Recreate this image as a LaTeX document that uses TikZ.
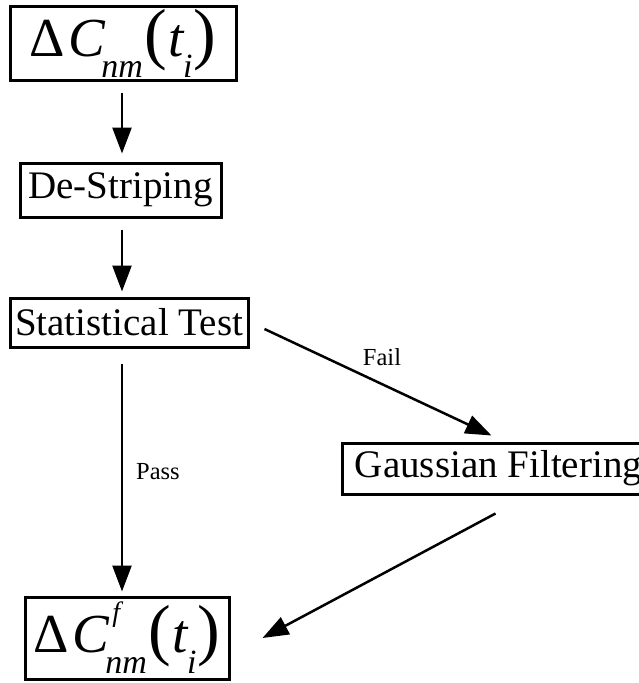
\documentclass[tikz,border=0pt]{standalone}
\usepackage{fontspec}
\setmainfont{Liberation Serif}
\usetikzlibrary{arrows.meta,calc}
\newcommand\mysubtxt[1]{\raisebox{-21pt}{\fontsize{34}{34}\selectfont\itshape #1}}
\newcommand\myparen[1]{{\fontsize{68}{68}\selectfont #1}}
\tikzset{
  box/.style={draw, line width=3pt, inner sep=0pt, rectangle, font=\fontsize{39}{44}\selectfont},
  arr/.style={line width=2.5pt, -{Triangle[length=26pt,width=19pt]}},
  lbl/.style={font=\fontsize{24.5}{28}\selectfont, inner sep=0pt}
}
\begin{document}
\begin{tikzpicture}[x=1pt,y=-1pt]
\useasboundingbox (0,0) rectangle (639,683);
\node[box, minimum width=226pt, minimum height=74pt] (b1) at (123,43)
  {\fontsize{55}{60}\selectfont Δ\kern3pt\textit{C}\kern-4pt\mysubtxt{nm}\kern1pt\myparen{(}\kern2pt\textit{t}\kern-2pt\mysubtxt{i}\kern1pt\myparen{)}};
\node[box, minimum width=201pt, minimum height=54pt] (b2) at (120.5,190) {De-Striping};
\node[box, minimum width=238pt, minimum height=49pt] (b3) at (129,322.5) {Statistical Test};
\node[box, minimum width=313pt, minimum height=51pt] (b4) at (498.5,468.5) {Gaussian Filtering};
\node[box, minimum width=204pt, minimum height=82pt] (b5) at (127,638)
  {\fontsize{55}{60}\selectfont Δ\kern3pt\textit{C}\kern-4pt\rlap{\kern7pt\raisebox{31pt}{\fontsize{28}{28}\selectfont\itshape f}}\mysubtxt{nm}\kern1pt\myparen{(}\kern2pt\textit{t}\kern-2pt\mysubtxt{i}\kern1pt\myparen{)}};
\draw[arr] ($(b1.south)+(-1,11)$) -- ($(b2.north)+(1.5,-8)$);
\draw[arr] ($(b2.south)+(1.5,11)$) -- ($(b3.north)+(-7,-5)$);
\draw[arr] ($(b3.south)+(-7,15)$) -- ($(b5.north)+(-5,-4)$);
\draw[arr] ($(b3.east)+(15,6.5)$) -- ($(b4.north west)+(151,-6)$);
\draw[arr] ($(b4.south west)+(155,18)$) -- ($(b5.east)+(32,0)$);
\node[lbl] (fail) at (382,357) {Fail};
\node[lbl] (pass) at (158,472) {Pass};
\end{tikzpicture}
\end{document}
